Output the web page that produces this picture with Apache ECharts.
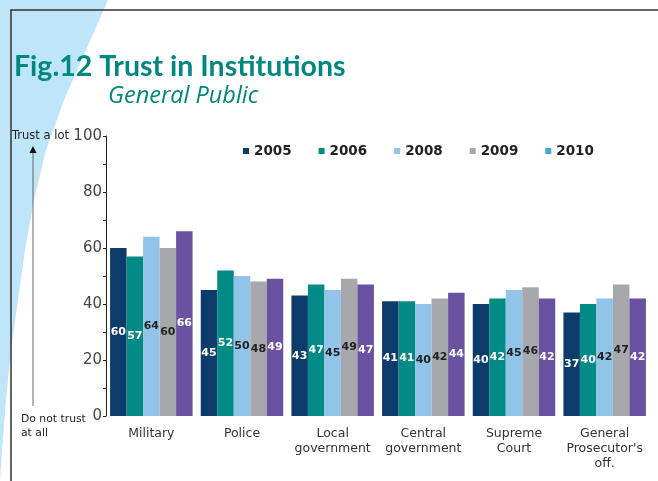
<!DOCTYPE html>
<html>
<head>
<meta charset="utf-8">
<script src="https://cdn.jsdelivr.net/npm/echarts@6/dist/echarts.min.js"></script>
<style>
  html, body { margin: 0; padding: 0; background: #fff; }
  #chart { width: 658px; height: 481px; }
</style>
</head>
<body>
<div id="chart"></div>
<script>
const categories = ['Military', 'Police', 'Local\ngovernment', 'Central\ngovernment', 'Supreme\nCourt', "General\nProsecutor's\noff."];
const years = ['2005', '2006', '2008', '2009', '2010'];
const values2005 = [60, 45, 43, 41, 40, 37];
const values2006 = [57, 52, 47, 41, 42, 40];
const values2008 = [64, 50, 45, 40, 45, 42];
const values2009 = [60, 48, 49, 42, 46, 47];
const values2010 = [66, 49, 47, 44, 42, 42];
const yTicks = [0, 20, 40, 60, 80, 100];

const seriesValues = [values2005, values2006, values2008, values2009, values2010];
const barColors = ['#0e3c6a', '#028a87', '#92c4ea', '#a7a8ac', '#6a52a1'];
const labelColors = ['#fff', '#fff', '#222', '#222', '#fff'];
const legendColors = ['#0e3c6a', '#028a87', '#92c4ea', '#a7a8ac', '#3aaecc'];

// light blue wedge in the top-left corner of the page
const wedge = [[0, 0], [108, 0], [86, 50], [64, 100], [46, 150], [34, 200], [25, 250],
  [18, 300], [11, 350], [6, 400], [2, 450], [0, 481]];

const chart = echarts.init(document.getElementById('chart'));

const series = years.map((year, i) => ({
  name: year,
  type: 'bar',
  data: seriesValues[i],
  barWidth: 16.5,
  barGap: '0%',
  itemStyle: { color: barColors[i] },
  label: {
    show: true,
    position: 'inside',
    color: labelColors[i],
    fontFamily: 'DejaVu Sans',
    fontWeight: 'bold',
    fontSize: 11
  }
}));

const option = {
  backgroundColor: '#fff',
  animation: false,
  grid: { left: 106, right: 8, top: 136, bottom: 65 },
  legend: {
    left: 238,
    top: 139,
    itemWidth: 6,
    itemHeight: 6,
    itemGap: 27,
    icon: 'rect',
    textStyle: {
      fontFamily: 'DejaVu Sans',
      fontWeight: 'bold',
      fontSize: 13.5,
      color: '#222'
    },
    data: years.map((year, i) => ({ name: year, itemStyle: { color: legendColors[i] } }))
  },
  xAxis: {
    type: 'category',
    data: categories,
    axisLine: { show: false },
    axisTick: { show: false },
    axisLabel: {
      interval: 0,
      margin: 10,
      color: '#333',
      fontFamily: 'DejaVu Sans',
      fontSize: 12.5,
      lineHeight: 15
    }
  },
  yAxis: {
    type: 'value',
    min: 0,
    max: 100,
    interval: 20,
    splitLine: { show: false },
    axisLine: { show: true, lineStyle: { color: '#222', width: 1 } },
    axisTick: { show: true, length: 3, lineStyle: { color: '#222' } },
    minorTick: { show: true, splitNumber: 2, length: 3, lineStyle: { color: '#222' } },
    axisLabel: {
      margin: 4,
      color: '#444',
      fontFamily: 'DejaVu Sans',
      fontSize: 15,
      formatter: (v) => (yTicks.includes(v) ? String(v) : '')
    }
  },
  graphic: [
    {
      type: 'polygon',
      z: -10,
      shape: { points: wedge },
      style: { fill: '#bfe5f8' }
    },
    {
      type: 'polyline',
      shape: { points: [[11, 481], [11, 10], [658, 10]] },
      style: { stroke: '#333', lineWidth: 1.5, fill: null }
    },
    {
      type: 'text',
      left: 14,
      top: 52,
      style: {
        text: 'Fig.12 Trust in Institutions',
        fill: '#00877f',
        font: 'bold 28.5px Lato'
      }
    },
    {
      type: 'text',
      left: 108,
      top: 85,
      style: {
        text: 'General Public',
        fill: '#00877f',
        font: 'italic 23.5px "Open Sans"'
      }
    },
    {
      type: 'text',
      left: 12,
      top: 130,
      style: { text: 'Trust a lot', fill: '#222', font: '11.5px DejaVu Sans' }
    },
    {
      type: 'line',
      shape: { x1: 33, y1: 406, x2: 33, y2: 152 },
      style: { stroke: '#666', lineWidth: 1 }
    },
    {
      type: 'polygon',
      shape: { points: [[29.5, 153], [36.5, 153], [33, 146]] },
      style: { fill: '#111' }
    },
    {
      type: 'text',
      left: 21,
      top: 412,
      style: { text: 'Do not trust\nat all', fill: '#222', font: '500 10.8px DejaVu Sans', lineHeight: 14 }
    }
  ],
  series: series
};

chart.setOption(option);
</script>
</body>
</html>
